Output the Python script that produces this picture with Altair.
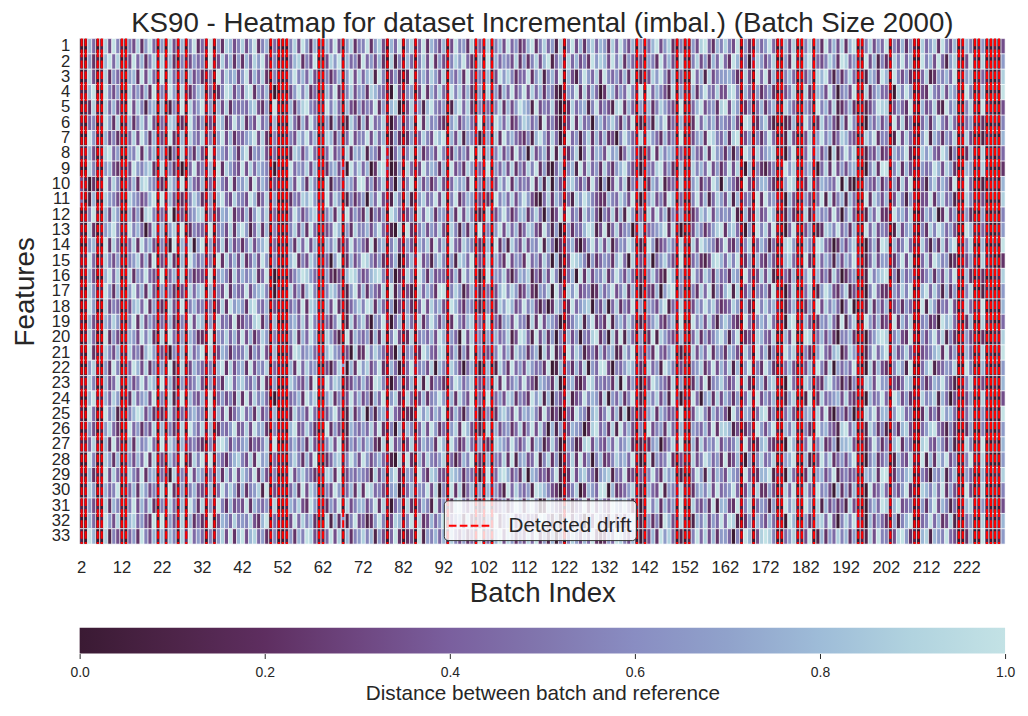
import altair as alt
import pandas as pd

title_text = "KS90 - Heatmap for dataset Incremental (imbal.) (Batch Size 2000)"
first_batch = 2
n_batches = 230
batch_ticks = [2, 12, 22, 32, 42, 52, 62, 72, 82, 92, 102, 112, 122, 132, 142, 152, 162, 172, 182, 192, 202, 212, 222]
drift_batches = [2, 3, 6, 7, 12, 13, 21, 23, 26, 28, 33, 35, 49, 51, 52, 53, 61, 62, 67, 78, 82, 85,
                 93, 100, 102, 104, 122, 140, 142, 150, 152, 153, 166, 169, 175, 176, 180, 181, 184,
                 195, 196, 203, 209, 210, 220, 221, 224, 225, 227, 228, 229, 230]

# one digit per batch (0 = distance 0.0 ... 9 = distance 1.0), groups of ten batches
row_01 = "0074018395 1053826940 6083170592 4190628735 8369257041 0058396271 1749306825 5926830749 0681492753 7039562814 1805739462 3792584618 0593726847 6284953706 1479368205 0163894275 8539062174 6940173800 5806294738 2790158364 9053726108 4682953701 7501600103"
row_02 = "1062107948 0139472581 8172051364 5091384726 2748693150 1047825390 0386917452 9463720815 1740583926 3158694207 0917465382 6258379147 1847352968 7395826413 0652947308 1058362749 4297150386 3580062910 7914358629 8461093715 2185947009 5739416810 3910800106"
row_03 = "0183018264 1067293840 9084160735 2150948673 6937482051 0169574831 1524706938 4781950362 0291574863 8064729315 1703968524 4926815739 0731596482 9546372801 1386952704 0094718356 6752183094 9271057401 3608794152 5840117629 7095362114 8126574901 6701410018"
row_04 = "1179009536 0084637291 5196081247 7040259836 3892647100 1036958240 0749215836 6287541093 1560392748 4195837206 0816274935 9384726510 1659283740 2873649519 0947531806 1172695483 3895074162 4620135800 8217639405 6391082574 4108596013 2954837610 9501700109"
row_05 = "0128108473 1093851670 7015190846 9160738254 5478326091 0172689541 1958407326 3549261780 0382617954 6017948205 1405827369 7619354820 0284671593 5318927406 1725864309 0147935628 9386125047 2571086410 6409573812 4720113598 8036429107 3482195700 5810911003"
row_06 = "1045019628 0172584930 4187020953 6031872495 8253946170 1084273950 0617301852 7294581036 1470928563 2068357419 0519748236 8746193520 1392845067 4685273901 0518692417 1029485736 5473098126 8310012701 9502846317 2951006473 6193825004 7269538411 4611200105"
row_07 = "0096107352 1048396271 3092170854 8150693724 4679382051 0153869470 1872604935 5938470162 0261485397 9073816520 1608295743 2517963840 0946158273 7230596418 1864273509 0136729854 7289136052 5940118300 3816957248 7430186925 5019384106 9175264801 8300111007"
row_08 = "1173018946 0065928470 6104081527 3091764852 7926583140 1028736941 0493518276 8165293047 1580724639 5127463908 0715836294 6083572918 1258049376 3967148521 0392857614 1074382965 2615097184 6780105900 4927360815 9580114372 3175692018 6843971500 2710801014"
row_09 = "0085106732 1139657820 8052100493 5170928643 9384765102 0194658371 1267340958 4702893016 0841395762 7093528614 1906473825 3859261047 0571938462 8426795310 1548936207 0185749362 4938107052 1350196810 5710482936 3671005829 9058273116 4597386200 7601810002"
row_10 = "3102019485 0147289651 2086190743 7041853926 6829475031 1073962850 0815427639 9362581407 1590736248 3148672905 0613859274 5492718063 1785362940 6039481527 0275913418 1168253970 8642093157 7420069801 2813765490 8101064372 5162839014 1684752901 9400101107"
row_11 = "4017008653 1086534790 9173021586 2160794385 5397248160 0125487961 1938601524 6074932185 0711684593 8059247613 1209574836 9631048275 0418697532 2754863910 1683529704 0059371486 3817145092 9562107301 6304918257 1740092863 7038516203 3926845110 8511300108"
row_12 = "0159107386 0073618951 4190230568 8051376924 3726958140 1049635782 0572819364 2815360974 1350849726 6172938501 0813695247 7258406139 1946285730 5382719604 0839471526 1024869375 6591072183 4970116201 8127563940 5830117492 2196748003 7580293601 6200600105"
row_13 = "1082016795 1195740382 7068190254 4190563827 9614827051 0158372940 1349706285 5736942108 0921573648 3085162709 1506938472 4873295160 0625479813 9148356027 1456792810 0137524689 2784106095 8391004910 3601287594 6271094835 4018367105 2859746300 9711410016"
row_14 = "0067109284 0148295730 5109172806 9061482735 2583679140 1062849371 0758213946 4291670583 1630758294 7194386502 0709261853 8365917402 1572036948 3814659701 0961347518 1083976524 9326158047 5140089600 7519843026 3681004729 8073594118 4162837901 5800700109"
row_15 = "1194018536 1056837290 3182070964 6150928473 8247396051 0179253860 1406902735 9853621470 0472935168 5061874903 1817429365 2946385071 0398751624 6527940813 1704685309 0046213897 4859126073 2630178410 9208475163 7592014836 6125938004 8397561201 3610811002"
row_16 = "0173007948 0182659431 9047180523 3190675284 7568249100 1035798641 0621307985 3478951602 1850962734 4137295810 0926583147 6814273950 1470928365 8259637402 0584219706 1195386274 5276094138 3810142701 6917352840 2460119578 9051746203 5726384910 7201200118"
row_17 = "1085119627 1069472830 6152031847 8071539264 4936785102 0183627950 1587401693 7264380915 0310847529 9058613721 1403795862 3721658094 0869345127 4693582710 1327068905 0052849163 7918036054 6291003800 4801697325 8131005942 2164859017 9485172600 5800111006"
row_18 = "0196008354 0137849261 2083190574 5150382967 6289547031 1046392871 0739211468 5982741603 1620493857 3197426501 0512869734 9573140286 1294678053 7048253916 0653791428 1137596842 3486172095 8572014710 2619385740 4900118263 7035264109 1862549301 8411900107"
row_19 = "1073107586 1059283640 4172051938 7061845392 3548926170 0167483952 1425901836 8306592047 0741825963 6029537814 1804267395 5182937640 0357816924 2916748501 1468325709 0095738416 8632094157 5941108901 7302658419 1580096372 3192748015 6230978410 2700811004"
row_20 = "0184009263 0176395820 8094160752 2190658473 9372486051 1058274960 0863109275 4617280593 1280564739 7164093825 0627458139 8419372605 1736054892 5082917406 0291864317 1048263579 6159023187 4380073900 9814736205 5720104689 8057329106 3694815201 6310200118"
row_21 = "1092118537 1184527961 3105270846 9081376254 5826493170 0139856742 1796513082 2958641307 0561297438 8047162905 1315947286 6257083914 0948613527 3671285904 1529436801 0183749265 2763185094 7150196810 5206943781 3862015947 9173584203 4578293610 7401801019"
row_22 = "0068106295 0149738251 6091180375 4150792836 7293658041 1072948560 0314860729 6835921740 1492563807 5186304710 0701852946 3864529017 1527380649 9305468712 0846197503 1056824937 4817069152 9620147301 3719528064 6491008273 2058619004 7913465800 9500710106"
row_23 = "1185007349 1063594870 9172061458 3061528947 8547392160 0186437291 1958702364 7429851036 0370819254 2059746813 1608293574 9431765280 0672139845 4528093610 1397542806 0027391568 5349182067 2781009410 8603279541 4150187396 6132487015 2476953101 5811300107"
row_24 = "0079117486 0128467390 5081290743 7190463528 2938574001 1045729680 0682513947 3517490682 1840372569 6172853904 0914638725 4296817053 1813495762 8064725911 0758361920 1194067283 7526048193 6470116800 1902845673 8321007459 4097362118 5681740310 3600811003"
row_25 = "1094009571 1057983621 2183041675 5081739246 9462835170 0128563941 1369401825 8051672943 0211968475 9037415820 1502786394 7685294130 0429651783 5937180402 1682753419 0138952746 3095176048 9250047301 6718392045 2501086937 7169845002 8352967401 4711610109"
row_26 = "0163016842 0194625380 7052180964 8170254693 4839672051 1079348520 0926301754 6483921507 1750483962 4168297301 0817356248 2593840716 1376502894 6281947305 0935628417 1065473928 8713024196 3691075810 5209674318 9470118625 1052783104 6894315200 2600501016"
row_27 = "1148107293 1072856940 9186072453 2051897364 6724358190 0157462831 1583902647 4762180935 0381475629 7095238416 1208764953 5927613840 0651289374 3749568201 1267035819 0072846593 6458193027 8321009701 4915823607 7830114952 5179264008 9437526110 8501900107"
row_28 = "0095008627 0163749281 3074190285 9190642578 5382967041 1068527390 0247815963 9635742108 1920738546 8041375902 0705482916 7349158260 1482936057 2358674910 0816459203 1183597462 9237106058 4580167900 7103958246 3691005724 6017438119 1728693501 5911810006"
row_29 = "1072119384 1185392670 4108251937 6051728493 8649273150 0193685421 1872903546 5418360792 0650942873 3187625410 1914897352 8076342591 0293785416 7815492303 1594286701 0049618375 3865094127 7912108410 2806735914 5341076829 9126578015 3065814700 6400710118"
row_30 = "0186017459 0147286351 8092160573 3170495862 7256819031 1047293860 0539614728 2984531670 1471659380 5092814706 0726319485 4619875320 1358027649 9072346811 0743916528 1126758394 5694037182 2630184901 8419563072 6271009348 4053692108 7584926310 9301800105"
row_31 = "1163108275 1059374820 5184070962 8061952734 3927546180 0175832961 1264908357 7359281046 0820475193 6128953701 1803462597 2795018643 0614592837 4397685120 1958274609 0084362917 7329158046 5160096810 9608173524 1831005749 8179345016 2693751401 7811610003"
row_32 = "0074019638 0178463290 9063180724 2190376485 6583279041 1039485720 0817261593 4126950387 1591823746 9046718203 0619257834 6352984170 1927406385 5182637901 0625197318 1017583649 4981026175 3741109700 6217849305 8592107364 2061579004 5947238110 4600801017"
row_33 = "1097008153 1046295371 7175082946 4051683927 9378462150 0162759831 1493807256 8571630492 0230916574 7185362419 1407938625 3849261705 0586374921 2649853700 1372968401 0159483726 6405197038 9850046811 3901726485 7260118395 5138962107 8176594300 2700910016"

cmap_stops = [0.0, 0.1, 0.2, 0.3, 0.4, 0.5, 0.6, 0.7, 0.8, 0.9, 1.0]
cmap_colors = ["#3a1a33", "#4d2448", "#5e2e60", "#6e4680", "#7a5f9e", "#8176ae", "#898dc2",
               "#90a2cb", "#9ebcd8", "#b1d3df", "#c3e2e5"]
cbar_ticks = [0.0, 0.2, 0.4, 0.6, 0.8, 1.0]

font = "Liberation Sans"
ink = "#262626"

rows = [row_01, row_02, row_03, row_04, row_05, row_06, row_07, row_08, row_09, row_10, row_11,
        row_12, row_13, row_14, row_15, row_16, row_17, row_18, row_19, row_20, row_21, row_22,
        row_23, row_24, row_25, row_26, row_27, row_28, row_29, row_30, row_31, row_32, row_33]

records = []
for feature, row in enumerate(rows, start=1):
    for i, ch in enumerate(row.replace(" ", "")):
        records.append({"Feature": feature, "Batch": first_batch + i, "Distance": int(ch) / 9})
cells = pd.DataFrame(records)
drifts = pd.DataFrame({"Batch": drift_batches, "label": "Detected drift"})

batches = list(range(first_batch, first_batch + n_batches))
features = list(range(1, len(rows) + 1))
x_scale = alt.Scale(domain=batches, paddingInner=0, paddingOuter=0)

heat = alt.Chart(cells).mark_rect(stroke="white", strokeWidth=0.6).encode(
    x=alt.X("Batch:O", scale=x_scale,
            axis=alt.Axis(values=batch_ticks, labelAngle=0, labelFontSize=16.7, ticks=False,
                          domain=False, labelOverlap=False, labelPadding=16,
                          title="Batch Index", titleFontSize=27.8, titleFontWeight="normal",
                          titlePadding=3)),
    y=alt.Y("Feature:O", scale=alt.Scale(domain=features, paddingInner=0, paddingOuter=0),
            axis=alt.Axis(labelFontSize=16.7, ticks=False, domain=False, labelOverlap=False,
                          labelPadding=10, title="Features", titleFontSize=27.8,
                          titleFontWeight="normal", titlePadding=12)),
    color=alt.Color("Distance:Q",
                    scale=alt.Scale(domain=cmap_stops, range=cmap_colors, interpolate="rgb"),
                    legend=None),
)

drift = alt.Chart(drifts).mark_rule(strokeWidth=2, strokeDash=[7.7, 3.3]).encode(
    x=alt.X("Batch:O", scale=x_scale, bandPosition=0.5),
    color=alt.Color("label:N", scale=alt.Scale(range=["red"]),
                    legend=alt.Legend(title=None, orient="none", legendX=366, legendY=464,
                                      symbolType="stroke", symbolSize=1681, symbolStrokeWidth=2,
                                      symbolDash=[7.7, 3.3], labelFontSize=20.8, labelFont=font,
                                      labelColor=ink, labelOffset=18,
                                      fillColor="rgba(255,255,255,0.8)", strokeColor="#333333",
                                      cornerRadius=4, padding=4)),
)

main = alt.layer(heat, drift).resolve_scale(color="independent").properties(
    width=930, height=508,
    title=alt.Title(title_text, fontSize=27.8, fontWeight="normal", font=font, color=ink,
                    anchor="middle", offset=0),
)

grad = alt.LinearGradient(
    gradient="linear",
    stops=[alt.GradientStop(color=c, offset=o) for o, c in zip(cmap_stops, cmap_colors)],
    x1=0, x2=1, y1=0, y2=0,
)
cbar = alt.Chart(pd.DataFrame({"lo": [0.0], "hi": [1.0]})).mark_rect(fill=grad).encode(
    x=alt.X("lo:Q", scale=alt.Scale(domain=[0, 1], nice=False, zero=False),
            axis=alt.Axis(values=cbar_ticks, format=".1f", domain=False, grid=False, tickSize=5,
                          tickColor=ink, labelFontSize=14, labelFlush=False, labelPadding=7,
                          title="Distance between batch and reference", titleFontSize=20.8,
                          titleFontWeight="normal", titlePadding=4)),
    x2="hi:Q",
).properties(width=930, height=26)

chart = alt.vconcat(main, cbar, spacing=20).properties(
    padding={"left": 3, "top": 0, "right": 5, "bottom": 2}
).configure_view(stroke=None).configure_axis(
    labelFont=font, titleFont=font, labelColor=ink, titleColor=ink
)

chart.save("out.html", embed_options={"renderer": "svg", "actions": False})
